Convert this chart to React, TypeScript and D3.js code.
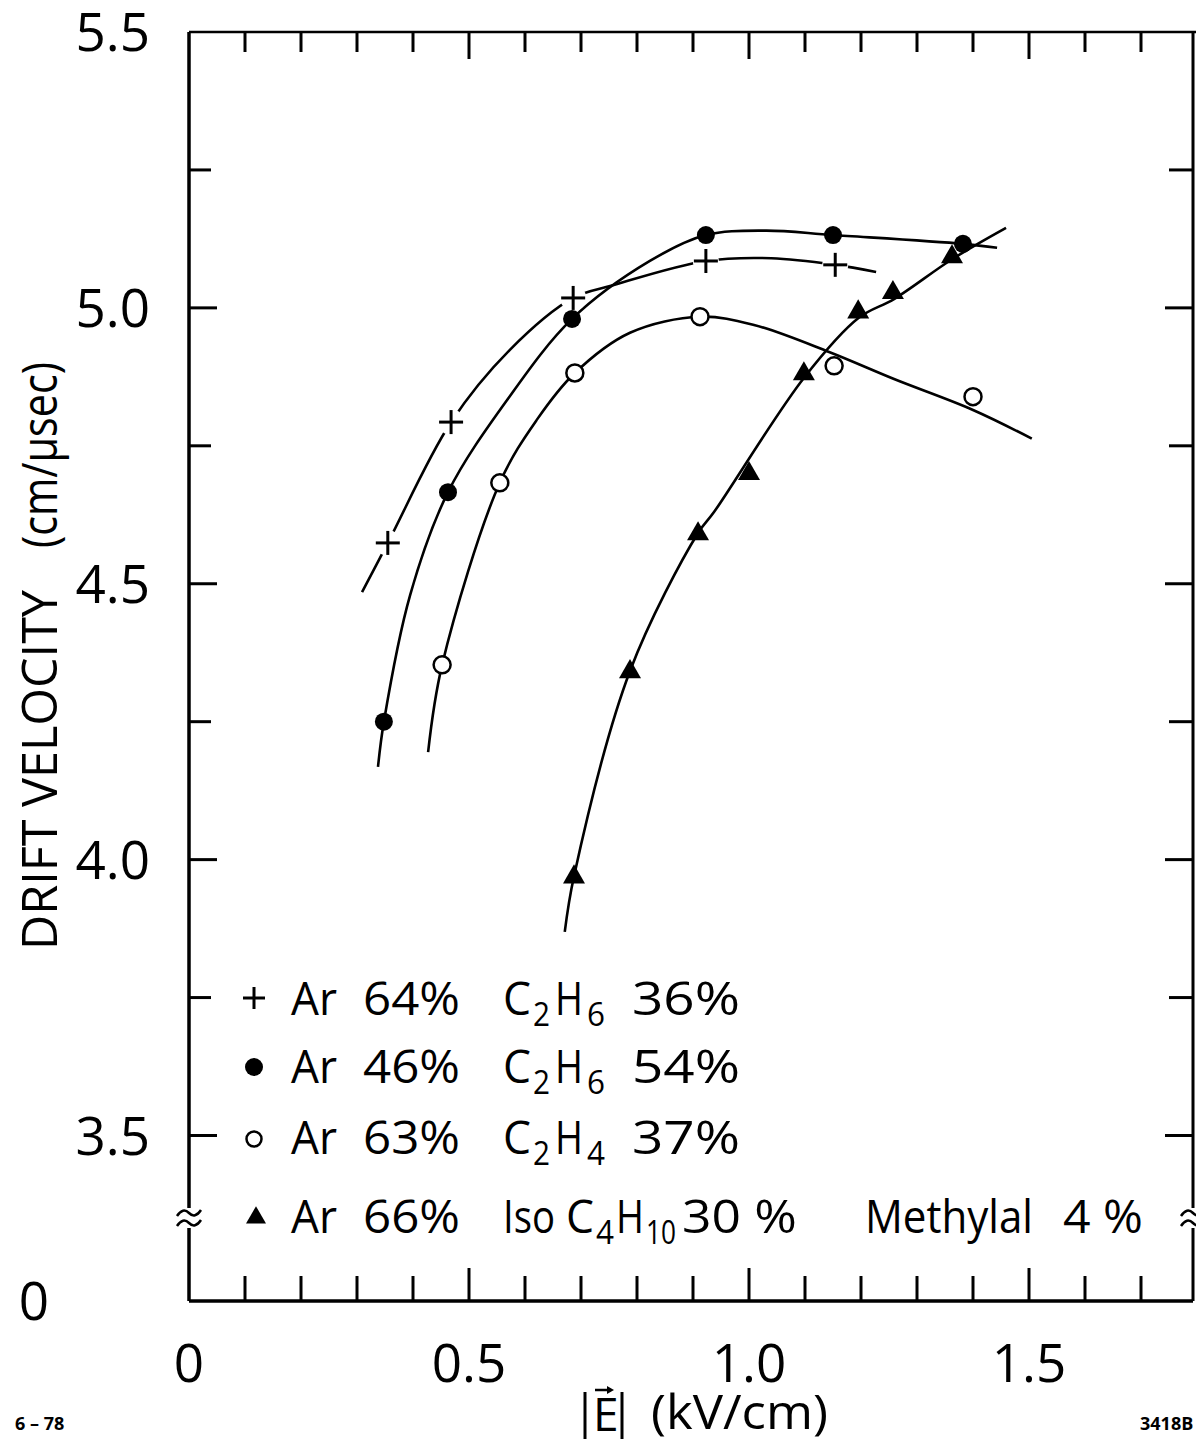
import React from 'react';
import * as d3 from 'd3';

// ---------- DATA ----------
// E field (kV/cm) and drift velocity (cm/µsec)
const plusE = [0.355, 0.468, 0.686, 0.923, 1.154];
const plusV = [4.574, 4.793, 5.018, 5.085, 5.078];

const dotE = [0.348, 0.4625, 0.684, 0.923, 1.15, 1.382];
const dotV = [4.25, 4.666, 4.98, 5.132, 5.132, 5.116];

const ringE = [0.452, 0.555, 0.689, 0.9125, 1.152, 1.4];
const ringV = [4.353, 4.683, 4.882, 4.984, 4.895, 4.839];

const triE = [0.6875, 0.7875, 0.909, 1.0, 1.098, 1.195, 1.257, 1.3625];
const triV = [3.97, 4.342, 4.592, 4.701, 4.882, 4.994, 5.029, 5.094];

// hand-drawn fit curves [E, v]
const plusFit: [number, number][] = [
  [0.309, 4.485], [0.355, 4.574], [0.468, 4.793], [0.573, 4.924], [0.686, 5.018],
  [0.757, 5.041], [0.923, 5.085], [1.04, 5.09], [1.154, 5.078], [1.227, 5.065],
];
const dotFit: [number, number][] = [
  [0.3375, 4.168], [0.348, 4.25], [0.395, 4.48], [0.4625, 4.666], [0.568, 4.833],
  [0.684, 4.98], [0.823, 5.085], [0.923, 5.132], [1.03, 5.14], [1.15, 5.132],
  [1.382, 5.116], [1.443, 5.109],
];
const ringFit: [number, number][] = [
  [0.427, 4.195], [0.452, 4.353], [0.555, 4.683], [0.621, 4.797], [0.689, 4.882],
  [0.7875, 4.955], [0.9125, 4.984], [1.009, 4.969], [1.143, 4.92], [1.259, 4.871],
  [1.4, 4.815], [1.505, 4.763],
];
const triFit: [number, number][] = [
  [0.671, 3.869], [0.6875, 3.97], [0.7875, 4.342], [0.909, 4.592], [0.9375, 4.63],
  [1.098, 4.873], [1.196, 4.982], [1.259, 5.016], [1.364, 5.089], [1.459, 5.145],
];

const xTickLabels = ['0', '0.5', '1.0', '1.5'];
const xTickValues = [0, 0.5, 1.0, 1.5];
const yTickLabels = ['5.5', '5.0', '4.5', '4.0', '3.5'];
const yTickValues = [5.5, 5.0, 4.5, 4.0, 3.5];
const yMinorTicks = [3.5, 3.75, 4.0, 4.25, 4.5, 4.75, 5.0, 5.25];
const xMinorTicks = [0.1, 0.2, 0.3, 0.4, 0.5, 0.6, 0.7, 0.8, 0.9, 1.0, 1.1, 1.2, 1.3, 1.4, 1.5, 1.6, 1.7];

const FONT = "'Open Sans', 'DejaVu Sans', sans-serif";

export default function App() {
  const W = 1196, H = 1442;
  const x = d3.scaleLinear().domain([0, 1]).range([189, 749]);
  const y = d3.scaleLinear().domain([3.5, 5.5]).range([1135.5, 32]);
  const left = x(0), right = 1193, top = y(5.5), bottom = y(3.2);

  const line = d3.line<[number, number]>()
    .x(d => x(d[0])).y(d => y(d[1]))
    .curve(d3.curveCatmullRom.alpha(0.5));

  const isMajor = (v: number) => Math.abs(v * 2 - Math.round(v * 2)) < 1e-6;

  const plus = (cx: number, cy: number, s = 12, key?: any) => (
    <g key={key}>
      <line x1={cx - s} x2={cx + s} y1={cy} y2={cy} stroke="#000" strokeWidth={3} />
      <line x1={cx} x2={cx} y1={cy - s} y2={cy + s} stroke="#000" strokeWidth={3} />
    </g>
  );
  const tri = (cx: number, cy: number, s = 22, key?: any) => {
    const h = s * Math.sqrt(3) / 2;
    return <path key={key} d={`M${cx},${cy - h * 0.62} L${cx + s / 2},${cy + h * 0.38} L${cx - s / 2},${cy + h * 0.38} Z`} fill="#000" />;
  };
  const tilde = (cx: number, cy: number, key: string) => (
    <g key={key}>
      <rect x={cx - 6} y={cy - 10} width={12} height={20} fill="#fff" />
      {[-5, 5].map(dy => (
        <path key={dy} d={`M${cx - 12},${cy + dy + 3} Q${cx - 6},${cy + dy - 6} ${cx},${cy + dy} T${cx + 12},${cy + dy - 3}`}
          fill="none" stroke="#000" strokeWidth={2.5} />
      ))}
    </g>
  );

  const legendY = [1015, 1083, 1154, 1233];
  const fs = 45, subFs = 32;

  const txt = (t: string, px: number, py: number, len?: number, size = fs, key?: any) => (
    <text key={key} x={px} y={py} fontSize={size} fontFamily={FONT}
      {...(len ? { textLength: len, lengthAdjust: 'spacingAndGlyphs' } : {})}>{t}</text>
  );

  return (
    <svg width={W} height={H} style={{ position: 'absolute', left: 0, top: 0, background: '#fff' }}
      xmlns="http://www.w3.org/2000/svg">
      <rect x={0} y={0} width={W} height={H} fill="#fff" />

      {/* frame */}
      <line x1={left} x2={left} y1={top} y2={bottom} stroke="#000" strokeWidth={3.5} />
      <line x1={left} x2={right} y1={bottom} y2={bottom} stroke="#000" strokeWidth={3.5} />
      <line x1={left} x2={W} y1={top} y2={top} stroke="#000" strokeWidth={2.5} />
      <line x1={right} x2={right} y1={top} y2={bottom} stroke="#000" strokeWidth={3} />

      {/* x ticks */}
      {xMinorTicks.map(v => {
        const maj = isMajor(v);
        return (
          <g key={'xt' + v}>
            <line x1={x(v)} x2={x(v)} y1={bottom} y2={bottom - (maj ? 33 : 25)} stroke="#000" strokeWidth={3} />
            <line x1={x(v)} x2={x(v)} y1={top} y2={top + (maj ? 27 : 20)} stroke="#000" strokeWidth={3} />
          </g>
        );
      })}
      {/* y ticks */}
      {yMinorTicks.map(v => {
        const maj = isMajor(v);
        return (
          <g key={'yt' + v}>
            <line x1={left} x2={left + (maj ? 28 : 22)} y1={y(v)} y2={y(v)} stroke="#000" strokeWidth={3} />
            <line x1={right} x2={right - (maj ? 28 : 24)} y1={y(v)} y2={y(v)} stroke="#000" strokeWidth={3} />
          </g>
        );
      })}

      {/* axis breaks */}
      {tilde(left, 1218, 'bl')}
      {tilde(right, 1218, 'br')}

      {/* tick labels */}
      {yTickValues.map((v, i) => (
        <text key={'yl' + v} x={150} y={y(v) + 19} fontSize={53} fontFamily={FONT} textAnchor="end">{yTickLabels[i]}</text>
      ))}
      <text x={34} y={1320} fontSize={53} fontFamily={FONT} textAnchor="middle">0</text>
      {xTickValues.map((v, i) => (
        <text key={'xl' + v} x={x(v)} y={1382} fontSize={53} fontFamily={FONT} textAnchor="middle">{xTickLabels[i]}</text>
      ))}

      {/* axis titles */}
      <g transform="translate(57,950) rotate(-90)">
        <text x={0} y={0} fontSize={50} fontFamily={FONT} textLength={360} lengthAdjust="spacingAndGlyphs">DRIFT VELOCITY</text>
      </g>
      <g transform="translate(57,548) rotate(-90)">
        <text x={0} y={0} fontSize={50} fontFamily={FONT} textLength={186} lengthAdjust="spacingAndGlyphs">(cm/µsec)</text>
      </g>
      {/* |E| with vector arrow */}
      <line x1={585} x2={585} y1={1392} y2={1439} stroke="#000" strokeWidth={3} />
      <line x1={622} x2={622} y1={1392} y2={1439} stroke="#000" strokeWidth={3} />
      <text x={593} y={1431} fontSize={46} fontFamily={FONT}>E</text>
      <path d="M595,1390 L611,1390" stroke="#000" strokeWidth={2.5} />
      <path d="M607,1386 L614,1390 L607,1394 Z" fill="#000" />
      <text x={651} y={1429} fontSize={47} fontFamily={FONT} textLength={177} lengthAdjust="spacingAndGlyphs">(kV/cm)</text>
      <text x={15} y={1430} fontSize={18} fontWeight="bold" fontFamily={FONT}>6 – 78</text>
      <text x={1140} y={1430} fontSize={18} fontWeight="bold" fontFamily={FONT}>3418B</text>

      {/* curves */}
      {[plusFit, dotFit, ringFit, triFit].map((c, i) => (
        <path key={'c' + i} d={line(c) || ''} fill="none" stroke="#000" strokeWidth={2.6} />
      ))}

      {/* markers */}
      {plusE.map((e, i) => (
        <g key={'p' + i}>
          <circle cx={x(e)} cy={y(plusV[i])} r={13} fill="#fff" />
          {plus(x(e), y(plusV[i]))}
        </g>
      ))}
      {dotE.map((e, i) => (
        <circle key={'d' + i} cx={x(e)} cy={y(dotV[i])} r={9} fill="#000" />
      ))}
      {ringE.map((e, i) => (
        <circle key={'r' + i} cx={x(e)} cy={y(ringV[i])} r={8.5} fill="#fff" stroke="#000" strokeWidth={2.5} />
      ))}
      {triE.map((e, i) => tri(x(e), y(triV[i]), 22, 't' + i))}

      {/* legend */}
      {plus(254, legendY[0] - 17, 11)}
      <circle cx={254} cy={legendY[1] - 16} r={9} fill="#000" />
      <circle cx={254} cy={legendY[2] - 15} r={7.5} fill="#fff" stroke="#000" strokeWidth={2.5} />
      {tri(256, legendY[3] - 16, 20)}

      {[['64%', '36%', '6'], ['46%', '54%', '6'], ['63%', '37%', '4']].map((r, i) => (
        <g key={'lg' + i}>
          {txt('Ar', 291, legendY[i], 46)}
          {txt(r[0], 363, legendY[i], 97)}
          {txt('C', 503, legendY[i], 28)}
          {txt('2', 533, legendY[i] + 11, 17, subFs)}
          {txt('H', 555, legendY[i], 28)}
          {txt(r[2], 587, legendY[i] + 11, 18, subFs)}
          {txt(r[1], 632, legendY[i], 108)}
        </g>
      ))}
      <g>
        {txt('Ar', 291, legendY[3], 46)}
        {txt('66%', 363, legendY[3], 97)}
        {txt('Iso', 503, legendY[3], 52)}
        {txt('C', 566, legendY[3], 28)}
        {txt('4', 596, legendY[3] + 11, 18, subFs)}
        {txt('H', 616, legendY[3], 28)}
        {txt('10', 646, legendY[3] + 11, 30, subFs)}
        {txt('30 %', 682, legendY[3], 115)}
        {txt('Methylal', 865, legendY[3], 168)}
        {txt('4 %', 1063, legendY[3], 80)}
      </g>
    </svg>
  );
}
